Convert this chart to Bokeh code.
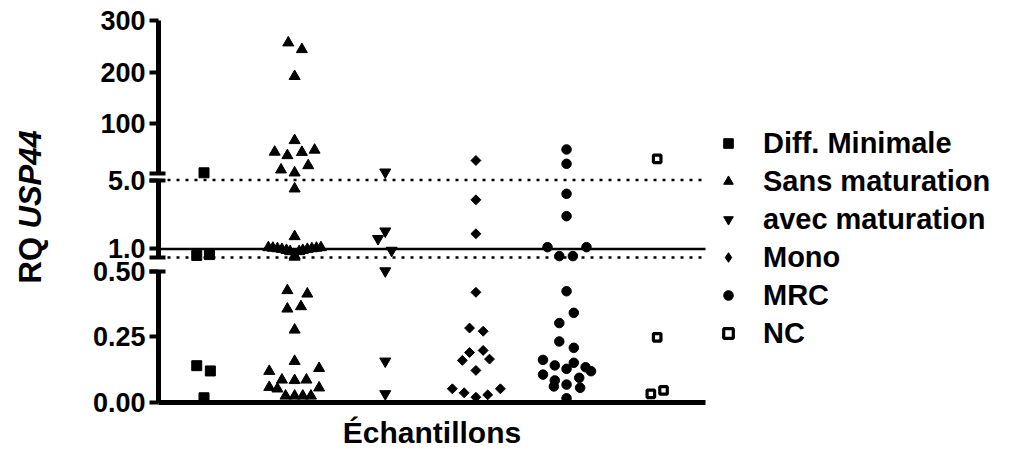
import math
from bokeh.plotting import figure
from bokeh.models import (Range1d, LinearAxis, FixedTicker, NumeralTickFormatter,
                          Legend, LegendItem, Label, ColumnDataSource)
from bokeh.embed import file_html
from bokeh.resources import INLINE

# ---------------- data ----------------
groups = ["Diff. Minimale", "Sans maturation", "avec maturation", "Mono", "MRC", "NC"]

diff_vals = [5.4, 0.67, 0.62, 0.14, 0.12, 0.018]
diff_dx = [0.0, 0.06, -0.08, -0.08, 0.07, 0.0]

sans_vals = [257, 244, 192, 68, 45.6, 38.9, 45.2, 49.5, 19.5, 11.2, 5.4,
             4.49, 1.72,
             1.08, 1.05, 1.02, 0.98, 0.92, 0.85, 0.62, 0.85, 0.92, 0.98, 1.02, 1.05, 1.08, 0.53,
             0.426, 0.413, 0.356, 0.365, 0.276, 0.157, 0.119, 0.130, 0.086, 0.084, 0.086,
             0.058, 0.052, 0.056, 0.025, 0.025, 0.025, 0.025]
sans_dx = [-0.07, 0.08, 0.0, 0.0, -0.22, -0.08, 0.08, 0.22, 0.15, -0.15, 0.0,
           0.0, 0.0,
           -0.29, -0.24, -0.19, -0.14, -0.09, -0.05, 0.0, 0.05, 0.09, 0.14, 0.19, 0.24, 0.29, 0.0,
           -0.08, 0.14, -0.08, 0.07, 0.0, 0.0, -0.28, 0.27, -0.14, 0.0, 0.13,
           -0.28, -0.19, 0.27, -0.1, 0.0, 0.09, 0.18]

avec_vals = [6.6, 2.03, 1.59, 0.91, 0.50, 0.157, 0.033]
avec_dx = [0.0, 0.0, -0.08, 0.07, 0.0, 0.0, 0.0]

mono_vals = [29.2, 3.85, 1.88, 0.419, 0.283, 0.271, 0.190, 0.198, 0.160, 0.165, 0.122,
             0.052, 0.037, 0.020, 0.029, 0.052]
mono_dx = [0.0, 0.0, 0.0, 0.0, -0.07, 0.08, -0.07, 0.08, -0.15, 0.15, 0.0,
           -0.26, -0.13, 0.0, 0.13, 0.27]

mrc_vals = [50.5, 22.8, 4.20, 2.90, 1.10, 1.10, 0.58, 0.58,
            0.423, 0.341, 0.302, 0.232, 0.208, 0.162, 0.141, 0.128, 0.151, 0.134, 0.119,
            0.106, 0.084, 0.061, 0.068, 0.094, 0.056, 0.016]
mrc_dx = [0.0, 0.0, 0.0, 0.0, -0.21, 0.22, -0.08, 0.07,
          0.0, 0.08, -0.08, -0.08, 0.08, -0.26, -0.13, 0.0, 0.08, 0.21, 0.27,
          -0.26, -0.13, -0.14, 0.0, 0.14, 0.15, 0.0]

nc_vals = [32.5, 0.248, 0.046, 0.033]
nc_dx = [0.0, 0.0, 0.07, -0.07]

# axis segments: (low, high) of each broken-axis piece
seg_bot = (0.0, 0.5)
seg_mid = (0.5, 5.0)
seg_top = (5.0, 300.0)
bot_ticks = [0.0, 0.25, 0.5]
mid_ticks = [1.0, 5.0]
top_ticks = [100, 200, 300]
ref_solid = [1.0]
ref_dotted = [0.5, 5.0]
x_label = "Échantillons"
y_label_plain = "RQ"
y_label_italic = "USP44"

# ---------------- layout constants (pixels) ----------------
W, H = 1016, 449
AX_LEFT, AX_RIGHT = 158, 705          # pixel columns of the x-axis ends
x_start, x_end = 0.498, 6.533         # category-axis ends
PX = {"default": (402, 270.5), "mid": (257, 179.5), "top": (172.5, 20)}
SEG = {"default": seg_bot, "mid": seg_mid, "top": seg_top}


def seg_range(name):
    lo, hi = SEG[name]
    plo, phi = PX[name]
    scale = (plo - phi) / (hi - lo)
    return Range1d(lo - (H - plo) / scale, hi + phi / scale)


xs_scale = (AX_RIGHT - AX_LEFT) / (x_end - x_start)
x_range = Range1d(x_start - AX_LEFT / xs_scale, x_end + (W - AX_RIGHT) / xs_scale)

FONT = "Liberation Sans"

p = figure(width=W, height=H, output_backend="svg", toolbar_location=None, tools="",
           title=None, x_range=x_range, y_range=seg_range("default"),
           x_axis_location=None, y_axis_location=None, min_border=0)
p.extra_y_ranges = {"mid": seg_range("mid"), "top": seg_range("top")}
p.grid.visible = False
p.outline_line_color = None
p.background_fill_color = "white"
p.border_fill_color = "white"

# x axis (fixed at y = 0 of the lowest segment)
xa = LinearAxis(fixed_location=0.0, bounds=(x_start, x_end), ticker=FixedTicker(ticks=[]))
xa.axis_line_width = 5
xa.axis_line_color = "black"
xa.major_tick_out = 0
xa.major_tick_in = 0
xa.minor_tick_out = 0
xa.minor_tick_in = 0
p.add_layout(xa, "below")


def seg_axis(name, ticks, minor, fmt):
    lo, hi = SEG[name]
    ax = LinearAxis(y_range_name=name, fixed_location=x_start, bounds=(lo, hi),
                    ticker=FixedTicker(ticks=ticks, minor_ticks=minor),
                    formatter=NumeralTickFormatter(format=fmt))
    ax.axis_line_width = 5
    ax.axis_line_color = "black"
    ax.major_tick_line_width = 4
    ax.major_tick_out = 9
    ax.major_tick_in = 0
    ax.minor_tick_line_width = 4
    ax.minor_tick_out = 9
    ax.minor_tick_in = 7
    ax.major_label_standoff = 4
    ax.major_label_text_font = FONT
    ax.major_label_text_font_style = "bold"
    ax.major_label_text_font_size = "27px"
    ax.major_label_text_color = "black"
    p.add_layout(ax, "left")


seg_axis("default", bot_ticks, [seg_bot[1]], "0.00")
seg_axis("mid", mid_ticks, [seg_mid[0], seg_mid[1]], "0.0")
seg_axis("top", top_ticks, [seg_top[0]], "0")

# reference lines across the category axis
p.segment(x0=[x_start], x1=[x_end], y0=ref_solid, y1=ref_solid, y_range_name="mid",
          line_color="black", line_width=2.5)
p.segment(x0=[x_start] * len(ref_dotted), x1=[x_end] * len(ref_dotted), y0=ref_dotted,
          y1=ref_dotted, y_range_name="mid", line_color="black", line_width=2.6,
          line_dash="3 6")

styles = [
    dict(marker="square", size=10, fill_color="black", line_width=1, angle=0.0),
    dict(marker="triangle", size=11, fill_color="black", line_width=1, angle=0.0),
    dict(marker="inverted_triangle", size=11, fill_color="black", line_width=1, angle=0.0),
    dict(marker="square", size=7, fill_color="black", line_width=1, angle=math.pi / 4),
    dict(marker="circle", size=9.5, fill_color="black", line_width=1, angle=0.0),
    dict(marker="square", size=7.5, fill_color="white", line_width=3.2, angle=0.0),
]
# marker shown in the legend (the legend does not rotate markers)
legend_markers = [None, None, None, "diamond", None, None]
series = [(diff_vals, diff_dx), (sans_vals, sans_dx), (avec_vals, avec_dx),
          (mono_vals, mono_dx), (mrc_vals, mrc_dx), (nc_vals, nc_dx)]


def seg_of(v):
    if v <= seg_bot[1]:
        return "default"
    if v <= seg_mid[1]:
        return "mid"
    return "top"


items = []
for gi, ((vals, dxs), st) in enumerate(zip(series, styles)):
    rends = []
    for name in ("default", "mid", "top"):
        xs = [gi + 1 + d for v, d in zip(vals, dxs) if seg_of(v) == name]
        ys = [v for v in vals if seg_of(v) == name]
        if not xs:
            continue
        src = ColumnDataSource(dict(x=xs, y=ys))
        if legend_markers[gi] is not None:
            # small legend-shaped copy, fully hidden under the rotated markers
            lr = p.scatter("x", "y", source=src, y_range_name=name,
                           marker=legend_markers[gi], size=5, fill_color=st["fill_color"],
                           line_color="black", line_width=1)
            rends.append(lr)
        r = p.scatter("x", "y", source=src, y_range_name=name, marker=st["marker"],
                      size=st["size"], angle=st["angle"], fill_color=st["fill_color"],
                      line_color="black", line_width=st["line_width"])
        rends.append(r)
    items.append(LegendItem(label=groups[gi], renderers=[rends[0]], index=0))

legend = Legend(items=items, location=(716, H - 352))
legend.glyph_width = 24
legend.glyph_height = 38
legend.label_height = 38
legend.label_standoff = 23
legend.spacing = 0
legend.padding = 0
legend.margin = 0
legend.border_line_color = None
legend.background_fill_alpha = 0
legend.label_text_font = FONT
legend.label_text_font_style = "bold"
legend.label_text_font_size = "29px"
legend.label_text_color = "black"
p.add_layout(legend)

# x-axis title
p.add_layout(Label(x=(x_start + x_end) / 2, y=H - 432, x_units="data", y_units="screen",
                   text=x_label, text_align="center", text_baseline="middle",
                   text_font=FONT, text_font_style="bold", text_font_size="30px",
                   text_color="black"))

# y-axis title: "RQ " + italic "USP44"
p.add_layout(Label(x=30, y=H - 283, x_units="screen", y_units="screen",
                   text=y_label_plain, angle=math.pi / 2, text_align="left",
                   text_baseline="middle", text_font=FONT, text_font_style="bold",
                   text_font_size="31px", text_color="black"))
p.add_layout(Label(x=30, y=H - 283 + 55, x_units="screen", y_units="screen",
                   text=y_label_italic, angle=math.pi / 2, text_align="left",
                   text_baseline="middle", text_font=FONT, text_font_style="bold italic",
                   text_font_size="31px", text_color="black"))

open("out.html", "w", encoding="utf-8").write(file_html(p, INLINE))
